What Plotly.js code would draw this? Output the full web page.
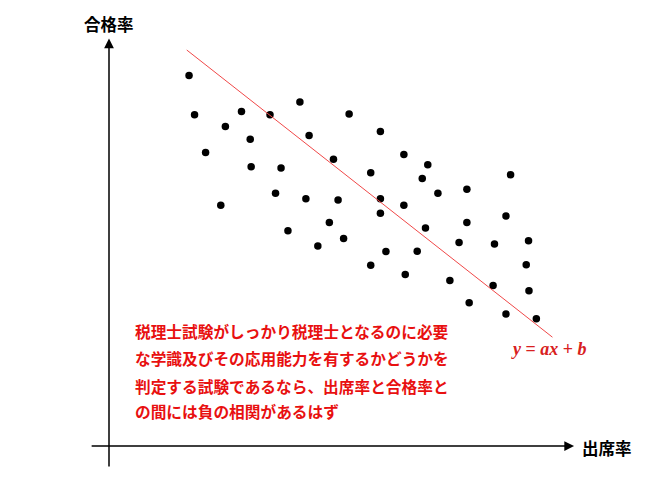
<!DOCTYPE html>
<html>
<head>
<meta charset="utf-8">
<script src="https://cdn.plot.ly/plotly-3.0.1.min.js"></script>
<style>
html, body { margin: 0; padding: 0; background: #fff; }
#chart { width: 650px; height: 484px; }
</style>
</head>
<body>
<div id="chart"></div>
<script>
// attendance rate (x) and pass rate (y)
const attendRate = [17.4, 18.6, 21.0, 24.3, 25.3, 28.8, 30.7, 30.9, 35.0, 36.2,
    37.4, 38.9, 41.5, 42.8, 43.5, 45.4, 47.9, 48.8, 49.8, 51.0,
    52.2, 56.9, 56.9, 59.0, 59.0, 59.0, 60.2, 64.1, 64.1, 64.4,
    67.0, 68.1, 68.8, 69.3, 71.5, 74.1, 76.1, 77.8, 77.8, 78.3,
    83.5, 83.8, 86.3, 86.3, 87.3, 90.7, 91.2, 91.3, 92.9];
const passRate = [92.6, 82.8, 73.4, 60.2, 79.9, 83.6, 76.7, 69.8, 82.8, 63.2,
    69.5, 53.8, 86.0, 61.8, 77.6, 50.0, 55.9, 71.7, 61.5, 51.9,
    83.0, 68.3, 45.2, 78.6, 61.8, 58.2, 48.6, 72.9, 60.2, 42.9,
    48.7, 66.9, 54.5, 70.3, 63.2, 41.4, 50.9, 64.2, 55.9, 35.8,
    40.1, 50.5, 57.5, 33.0, 67.8, 45.3, 51.3, 38.8, 31.8];

// trend line y = ax + b
const fitX = [16.9, 96.4];
const fitY = [99.0, 27.2];

const xLabel = '出席率';
const yLabel = '合格率';
const fitLabel = '<b><i>y</i> = <i>ax</i> + <i>b</i></b>';
const noteLines = [
    '税理士試験がしっかり税理士となるのに必要',
    'な学識及びその応用能力を有するかどうかを',
    '判定する試験であるなら、出席率と合格率と',
    'の間には負の相関があるはず',
];
const noteY = [28.6, 22.0, 15.0, 8.6];

const jpFont = '"Noto Sans CJK JP", "Noto Sans", sans-serif';

const data = [{ // dots
    x: attendRate,
    y: passRate,
    mode: 'markers',
    type: 'scatter',
    marker: { size: 7.5, color: '#000000' },
    hoverinfo: 'skip',
}, { // fit line
    x: fitX,
    y: fitY,
    mode: 'lines',
    type: 'scatter',
    line: { color: '#f04848', width: 1 },
    hoverinfo: 'skip',
}];

let annotations = [{ // x axis arrow
    x: 101.1, y: 0, ax: -4.1, ay: 0,
    xref: 'x', yref: 'y', axref: 'x', ayref: 'y',
    showarrow: true, arrowhead: 2, arrowsize: 1.3, arrowwidth: 1.5,
    arrowcolor: '#000000', text: '',
}, { // y axis arrow
    x: 0, y: 101.9, ax: 0, ay: -5.5,
    xref: 'x', yref: 'y', axref: 'x', ayref: 'y',
    showarrow: true, arrowhead: 2, arrowsize: 1.3, arrowwidth: 1.5,
    arrowcolor: '#000000', text: '',
}, {
    x: 108.3, y: -0.4, xref: 'x', yref: 'y',
    showarrow: false, text: '<b>' + xLabel + '</b>',
    font: { family: jpFont, size: 16.5, color: '#000000' },
}, {
    x: 0, y: 105.5, xref: 'x', yref: 'y',
    showarrow: false, text: '<b>' + yLabel + '</b>',
    font: { family: jpFont, size: 16.5, color: '#000000' },
}, {
    x: 95.7, y: 24.25, xref: 'x', yref: 'y',
    showarrow: false, text: fitLabel,
    font: { family: '"Liberation Serif", serif', size: 18, color: '#d82020' },
}];
for (let i = 0; i < noteLines.length; ++i) {
    annotations.push({
        x: 5.15, y: noteY[i], xref: 'x', yref: 'y',
        xanchor: 'left', showarrow: false,
        text: '<b>' + noteLines[i] + '</b>',
        font: { family: jpFont, size: 15.7, color: '#e81010' },
    });
}

const layout = {
    width: 650,
    height: 484,
    margin: { l: 0, r: 0, t: 0, b: 0, pad: 0 },
    xaxis: {
        range: [-23.696, 117.609],
        showgrid: false, zeroline: false, showticklabels: false, showline: false,
        fixedrange: true,
    },
    yaxis: {
        range: [-9.5, 111.5],
        showgrid: false, zeroline: false, showticklabels: false, showline: false,
        fixedrange: true,
    },
    annotations: annotations,
    paper_bgcolor: '#ffffff',
    plot_bgcolor: '#ffffff',
    showlegend: false,
};

const config = { staticPlot: true, displayModeBar: false };

Plotly.newPlot('chart', data, layout, config);
</script>
</body>
</html>
